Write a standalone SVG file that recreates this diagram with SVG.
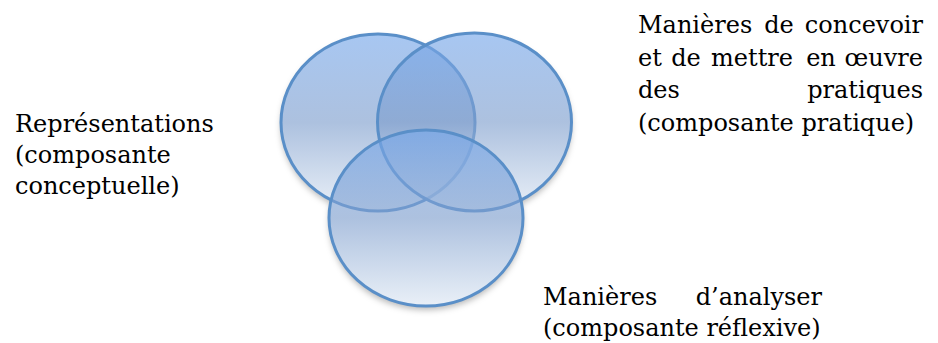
<svg xmlns="http://www.w3.org/2000/svg" width="938" height="343" viewBox="0 0 938 343">
<style>
  .t { font-family: "DejaVu Serif", "Liberation Serif", serif; font-size: 24px; fill: #000; }
  .m { text-anchor: middle; }
  .e { text-anchor: end; }
  .c { fill: url(#g); fill-opacity: 0.64; stroke: #5a8fc8; stroke-width: 3; }
  .w { fill: #fff; }
</style>
<defs>
  <linearGradient id="g" x1="0" y1="0" x2="0" y2="1">
    <stop offset="0" stop-color="#76a7ea"/>
    <stop offset="0.5" stop-color="#7e9ecd"/>
    <stop offset="1" stop-color="#dde7f3"/>
  </linearGradient>
  <filter id="sh" x="-20%" y="-20%" width="140%" height="150%">
    <feDropShadow dx="0" dy="4" stdDeviation="3" flood-color="#000" flood-opacity="0.28"/>
  </filter>
</defs>
<g id="shadows" filter="url(#sh)">
  <ellipse class="w" cx="378" cy="122.5" rx="97" ry="88.5"/>
  <ellipse class="w" cx="474.5" cy="122" rx="97" ry="89"/>
  <ellipse class="w" cx="426" cy="218" rx="97" ry="88"/>
</g>
<g id="conceptuelle-circle"><ellipse class="c" cx="378" cy="122.5" rx="97" ry="88.5"/></g>
<g id="pratique-circle"><ellipse class="c" cx="474.5" cy="122" rx="97" ry="89"/></g>
<g id="reflexive-circle"><ellipse class="c" cx="426" cy="218" rx="97" ry="88"/></g>
<g id="label-conceptuelle">
  <text class="t" x="15" y="132">Représentations</text>
  <text class="t" x="15" y="163">(composante</text>
  <text class="t" x="15" y="194">conceptuelle)</text>
</g>
<g id="label-pratique">
  <text class="t" x="638" y="33">Manières</text>
  <text class="t m" x="779" y="33">de</text>
  <text class="t e" x="923" y="33">concevoir</text>
  <text class="t" x="638" y="65.5">et</text>
  <text class="t m" x="686" y="65.5">de</text>
  <text class="t m" x="752" y="65.5">mettre</text>
  <text class="t m" x="821" y="65.5">en</text>
  <text class="t e" x="923" y="65.5">œuvre</text>
  <text class="t" x="638" y="98">des</text>
  <text class="t e" x="923" y="98">pratiques</text>
  <text class="t" x="638" y="130.5">(composante pratique)</text>
</g>
<g id="label-reflexive">
  <text class="t" x="543" y="305">Manières</text>
  <text class="t e" x="822" y="305">d’analyser</text>
  <text class="t" x="543" y="336">(composante réflexive)</text>
</g>
<g id="connectors"></g>
</svg>
